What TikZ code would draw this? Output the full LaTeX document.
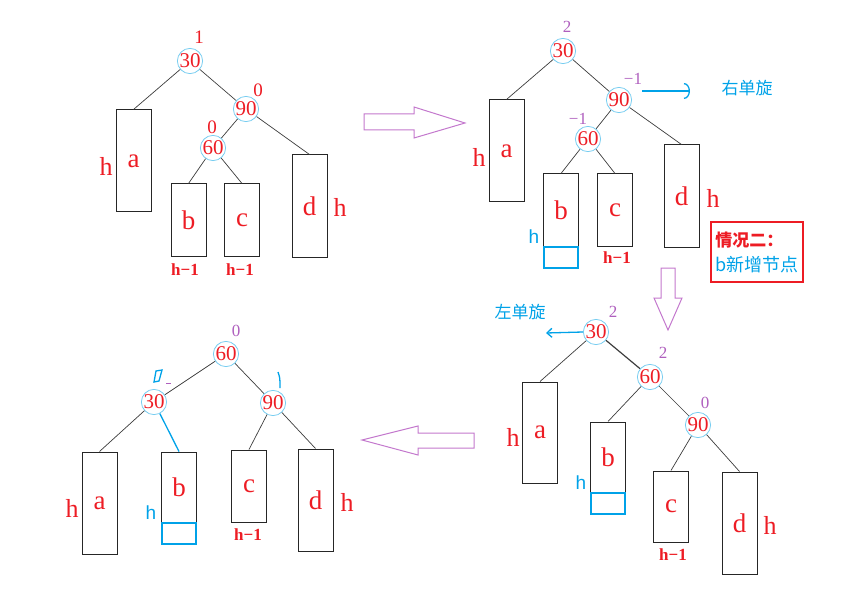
\documentclass[tikz,border=0pt]{standalone}
\usepackage{fontspec}
\setmainfont{Liberation Serif}
\setsansfont{Liberation Sans}
\newfontfamily\cjk{Noto Sans CJK SC}
\usetikzlibrary{arrows.meta}

\definecolor{inkred}{RGB}{237,28,36}
\definecolor{inkblue}{RGB}{0,162,232}
\definecolor{ringblue}{RGB}{120,205,240}
\definecolor{balpurple}{RGB}{175,95,190}
\definecolor{arrowpurple}{RGB}{195,120,205}
\definecolor{edgegray}{RGB}{60,60,60}

\tikzset{
  key/.style={circle, draw=ringblue, line width=0.8pt, minimum size=24pt, inner sep=0pt,
    text=inkred, font=\fontsize{21}{21}\selectfont},
  subtree/.style={draw=black!85, line width=1pt, minimum width=35pt, inner sep=0pt,
    text=inkred, font=\fontsize{27}{27}\selectfont},
  newleaf/.style={draw=inkblue, line width=2pt, minimum width=34pt, minimum height=21pt, inner sep=0pt},
  link/.style={edgegray, line width=0.7pt},
  bal/.style={text=balpurple, font=\fontsize{17}{17}\selectfont, inner sep=0pt},
  hgt/.style={text=inkred, font=\fontsize{26}{26}\selectfont, inner sep=0pt},
  hless/.style={text=inkred, font=\bfseries\fontsize{17}{17}\selectfont, inner sep=0pt},
  hnew/.style={text=inkblue, font=\sffamily\fontsize{19}{19}\selectfont, inner sep=0pt},
  rotnote/.style={text=inkblue, font=\cjk\fontsize{17}{17}\selectfont, inner sep=0pt},
  blockarrow/.style={draw=arrowpurple, line width=1pt, line join=miter}
}

\begin{document}
\begin{tikzpicture}[x=1pt, y=-1pt]
\useasboundingbox (0,0) rectangle (852,591);

% 1. Before insertion
\node[key] (s1n30) at (190,61) {30};
\node[key] (s1n90) at (246,109) {90};
\node[key] (s1n60) at (213,148) {60};
\node[subtree, minimum height=102pt] (s1a) at (133.5,161) {a};
\node[subtree, minimum height=72pt] (s1b) at (188.5,220) {b};
\node[subtree, minimum height=72pt] (s1c) at (242,220) {c};
\node[subtree, minimum height=102pt] (s1d) at (309.5,206) {d};
\draw[link] (s1n30) -- (s1a.north);
\draw[link] (s1n30) -- (s1n90);
\draw[link] (s1n90) -- (s1n60);
\draw[link] (s1n90) -- (s1d.north);
\draw[link] (s1n60) -- (s1b.north);
\draw[link] (s1n60) -- (s1c.north);
\node[bal, text=inkred, font=\fontsize{19}{19}\selectfont] (s1f30) at (199,37) {1};
\node[bal, text=inkred, font=\fontsize{19}{19}\selectfont] (s1f90) at (258,90) {0};
\node[bal, text=inkred, font=\fontsize{19}{19}\selectfont] (s1f60) at (212,127) {0};
\node[hgt] (s1ha) at (106,166) {h};
\node[hgt] (s1hd) at (340,207) {h};
\node[hless] (s1hb) at (185,270) {h−1};
\node[hless] (s1hc) at (240,270) {h−1};

% 2. After inserting below b
\node[key] (s2n30) at (563,51) {30};
\node[key] (s2n90) at (619,100) {90};
\node[key] (s2n60) at (588,139) {60};
\node[subtree, minimum height=102pt] (s2a) at (506.5,151) {a};
\node[subtree, minimum height=73pt] (s2b) at (561,210.5) {b};
\node[newleaf] (s2new) at (561,257.5) {};
\node[subtree, minimum height=72pt] (s2c) at (615,210) {c};
\node[subtree, minimum height=102pt] (s2d) at (681.5,196) {d};
\draw[link] (s2n30) -- (s2a.north);
\draw[link] (s2n30) -- (s2n90);
\draw[link] (s2n90) -- (s2n60);
\draw[link] (s2n90) -- (s2d.north);
\draw[link] (s2n60) -- (s2b.north);
\draw[link] (s2n60) -- (s2c.north);
\node[bal] (s2f30) at (567,27) {2};
\node[bal] (s2f90) at (633,79) {−1};
\node[bal] (s2f60) at (578,119) {−1};
\node[hgt] (s2ha) at (479,157) {h};
\node[hgt] (s2hd) at (713,198) {h};
\node[hnew] (s2hb) at (534,237) {h};
\node[hless] (s2hc) at (617,258) {h−1};
% right rotation hint
\coordinate (s2rotTip) at (690,91);
\draw[inkblue, line width=1.3pt, -{Arc Barb[length=6pt, width=16pt]}] (s2n90.east) ++(10,-9) -- (s2rotTip);
\node[rotnote] (s2rot) at (747,88) {右单旋};

% case box
\node[draw=inkred, line width=1.6pt, minimum width=92pt, minimum height=60pt, align=left,
  inner sep=0pt, font=\cjk\fontsize{17}{25}\selectfont] (caseTwo) at (757,252)
  {{\color{inkred}\bfseries 情况二：}\\{\color{inkblue}\fontsize{18}{25}\selectfont b新增节点}};

% 3. Big arrows between the steps
\draw[blockarrow] (364,114) -- (414,114) -- (414,107) -- (465,123) -- (414,138) -- (414,130) -- (364,130) -- cycle;
\draw[blockarrow] (661,268) -- (675,268) -- (675,298) -- (682,298) -- (668,330) -- (654,298) -- (661,298) -- cycle;
\draw[blockarrow] (474,433) -- (418,433) -- (418,426) -- (362,440) -- (418,455) -- (418,448) -- (474,448) -- cycle;

% 4. After the right rotation at 90
\node[key] (s3n30) at (596,332) {30};
\node[key] (s3n60) at (650,377) {60};
\node[key] (s3n90) at (698,425) {90};
\node[subtree, minimum height=101pt] (s3a) at (540,432.5) {a};
\node[subtree, minimum height=71pt] (s3b) at (608,457.5) {b};
\node[newleaf] (s3new) at (608,503.5) {};
\node[subtree, minimum height=71pt] (s3c) at (671,506.5) {c};
\node[subtree, minimum height=102pt] (s3d) at (739.5,523) {d};
\draw[link] (s3n30) -- (s3a.north);
\draw[link, line width=1.2pt] (s3n30) -- (s3n60);
\draw[link] (s3n60) -- (s3b.north);
\draw[link] (s3n60) -- (s3n90);
\draw[link] (s3n90) -- (s3c.north);
\draw[link] (s3n90) -- (s3d.north);
\node[bal] (s3f30) at (613,312) {2};
\node[bal] (s3f60) at (663,353) {2};
\node[bal] (s3f90) at (705,403) {0};
\node[hgt] (s3ha) at (513,437) {h};
\node[hgt] (s3hd) at (770,525) {h};
\node[hnew] (s3hb) at (581,483) {h};
\node[hless] (s3hc) at (673,555) {h−1};
% left rotation hint
\coordinate (s3rotTip) at (546,333);
\draw[inkblue, line width=1.3pt, -{Straight Barb[length=5pt, width=9pt]}] (s3n30.west) -- (s3rotTip);
\node[rotnote] (s3rot) at (520,312) {左单旋};

% 5. After the left rotation at 30
\node[key] (s4n60) at (226,354) {60};
\node[key] (s4n30) at (154,402) {30};
\node[key] (s4n90) at (273,403) {90};
\node[subtree, minimum height=102pt] (s4a) at (99.5,503) {a};
\node[subtree, minimum height=71pt] (s4b) at (179,487.5) {b};
\node[newleaf] (s4new) at (179,533.5) {};
\node[subtree, minimum height=72pt] (s4c) at (249,486) {c};
\node[subtree, minimum height=102pt] (s4d) at (315.5,500) {d};
\draw[link] (s4n60) -- (s4n30);
\draw[link] (s4n60) -- (s4n90);
\draw[link] (s4n30) -- (s4a.north);
\draw[inkblue, line width=1.3pt] (s4n30) -- (s4b.north);
\draw[link] (s4n90) -- (s4c.north);
\draw[link] (s4n90) -- (s4d.north);
\node[bal] (s4f60) at (236,331) {0};
\node[hgt] (s4ha) at (72,508) {h};
\node[hgt] (s4hd) at (347,502) {h};
\node[hnew] (s4hb) at (151,513) {h};
\node[hless] (s4hc) at (248,535) {h−1};
% hand-written marks
\draw[inkblue, line width=1.3pt] (156,371) -- (162,370) -- (159,381) -- (154,382) -- cycle;
\draw[balpurple, line width=0.8pt] (166,383) -- (171,383);
\draw[inkblue, line width=1.3pt] (278,372) .. controls (280,378) .. (280,388);

\end{tikzpicture}
\end{document}
